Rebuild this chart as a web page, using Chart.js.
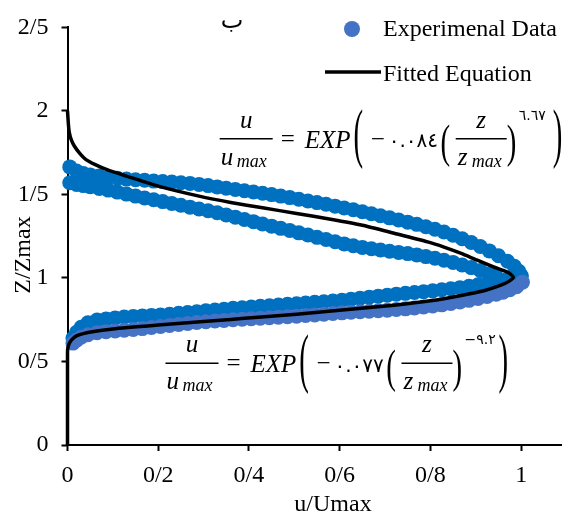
<!DOCTYPE html>
<html>
<head>
<meta charset="utf-8">
<script src="https://cdn.jsdelivr.net/npm/chart.js@4.4.0/dist/chart.umd.min.js"></script>
<style>
  html, body { margin: 0; padding: 0; background: #fff; overflow: hidden; }
  canvas { display: block; }
</style>
</head>
<body>
<canvas id="chart" width="569" height="514"></canvas>
<script>
// measured profile, upper half (two runs)
const upperOuterX = [0.005, 0.02, 0.035, 0.05, 0.07, 0.09, 0.11, 0.13, 0.15, 0.17, 0.19, 0.21, 0.23, 0.25, 0.27, 0.29, 0.31, 0.33, 0.35, 0.37, 0.39, 0.41, 0.43, 0.45, 0.47, 0.49, 0.51, 0.53, 0.55, 0.57, 0.59, 0.61, 0.63, 0.65, 0.67, 0.69, 0.71, 0.73, 0.75, 0.77, 0.79, 0.81, 0.83, 0.85, 0.87, 0.89, 0.91, 0.93, 0.95, 0.97, 0.985, 0.995, 1.0]
const upperOuterY = [1.665, 1.64, 1.625, 1.617, 1.61, 1.603, 1.597, 1.592, 1.588, 1.585, 1.58, 1.577, 1.574, 1.57, 1.566, 1.56, 1.553, 1.545, 1.537, 1.53, 1.522, 1.515, 1.507, 1.499, 1.49, 1.481, 1.471, 1.461, 1.451, 1.441, 1.43, 1.419, 1.408, 1.396, 1.384, 1.372, 1.36, 1.347, 1.334, 1.321, 1.307, 1.292, 1.275, 1.256, 1.235, 1.212, 1.188, 1.162, 1.133, 1.1, 1.07, 1.04, 1.01]

const upperInnerX = [0.005, 0.02, 0.035, 0.05, 0.07, 0.09, 0.11, 0.13, 0.15, 0.17, 0.19, 0.21, 0.23, 0.25, 0.27, 0.29, 0.31, 0.33, 0.35, 0.37, 0.39, 0.41, 0.43, 0.45, 0.47, 0.49, 0.51, 0.53, 0.55, 0.57, 0.59, 0.61, 0.63, 0.65, 0.67, 0.69, 0.71, 0.73, 0.75, 0.77, 0.79, 0.81, 0.83, 0.85, 0.87, 0.89, 0.91, 0.93, 0.945]
const upperInnerY = [1.57, 1.56, 1.553, 1.546, 1.536, 1.526, 1.514, 1.502, 1.49, 1.479, 1.468, 1.457, 1.446, 1.435, 1.424, 1.413, 1.402, 1.39, 1.377, 1.364, 1.35, 1.337, 1.323, 1.31, 1.297, 1.284, 1.27, 1.257, 1.243, 1.23, 1.217, 1.204, 1.193, 1.183, 1.175, 1.167, 1.16, 1.153, 1.146, 1.138, 1.128, 1.118, 1.106, 1.093, 1.078, 1.062, 1.045, 1.025, 1.008]

// measured profile, lower half
const lowerDarkX = [0.012, 0.02, 0.03, 0.045, 0.065, 0.085, 0.105, 0.125, 0.145, 0.165, 0.185, 0.205, 0.225, 0.245, 0.265, 0.285, 0.305, 0.325, 0.345, 0.365, 0.385, 0.405, 0.425, 0.445, 0.465, 0.485, 0.505, 0.525, 0.545, 0.565, 0.585, 0.605, 0.625, 0.645, 0.665, 0.685, 0.705, 0.725, 0.745, 0.765, 0.785, 0.805, 0.825, 0.845, 0.865, 0.885, 0.905, 0.925, 0.945, 0.96, 0.975, 0.99, 1.0]
const lowerDarkY = [0.64, 0.675, 0.705, 0.732, 0.748, 0.755, 0.761, 0.766, 0.77, 0.773, 0.776, 0.779, 0.783, 0.788, 0.793, 0.798, 0.803, 0.808, 0.813, 0.818, 0.822, 0.826, 0.83, 0.834, 0.838, 0.842, 0.846, 0.85, 0.854, 0.858, 0.862, 0.867, 0.873, 0.879, 0.885, 0.891, 0.897, 0.903, 0.908, 0.913, 0.918, 0.923, 0.929, 0.935, 0.942, 0.95, 0.959, 0.969, 0.978, 0.986, 0.994, 1.003, 1.015]

const expX = [0.012, 0.02, 0.03, 0.045, 0.065, 0.085, 0.105, 0.125, 0.145, 0.165, 0.185, 0.205, 0.225, 0.245, 0.265, 0.285, 0.305, 0.325, 0.345, 0.365, 0.385, 0.405, 0.425, 0.445, 0.465, 0.485, 0.505, 0.525, 0.545, 0.565, 0.585, 0.605, 0.625, 0.645, 0.665, 0.685, 0.705, 0.725, 0.745, 0.765, 0.785, 0.805, 0.825, 0.845, 0.865, 0.885, 0.905, 0.925, 0.945, 0.96, 0.975, 0.99, 1.003]
const expY = [0.61, 0.628, 0.645, 0.66, 0.672, 0.678, 0.683, 0.687, 0.692, 0.697, 0.703, 0.709, 0.715, 0.722, 0.728, 0.733, 0.738, 0.742, 0.746, 0.75, 0.753, 0.756, 0.759, 0.762, 0.765, 0.768, 0.771, 0.775, 0.779, 0.783, 0.787, 0.791, 0.795, 0.798, 0.801, 0.804, 0.807, 0.811, 0.815, 0.82, 0.826, 0.832, 0.839, 0.847, 0.856, 0.866, 0.877, 0.889, 0.903, 0.915, 0.93, 0.948, 0.975]

// fitted curve
const fitX = [0, 0, 0, 0.001, 0.005, 0.012, 0.021, 0.035, 0.055, 0.1, 0.2, 0.3, 0.36, 0.42, 0.505, 0.6, 0.72, 0.8, 0.868, 0.92, 0.954, 0.972, 0.983, 0.97, 0.939, 0.9, 0.868, 0.83, 0.794, 0.72, 0.65, 0.58, 0.505, 0.43, 0.36, 0.29, 0.2, 0.13, 0.09, 0.06, 0.04, 0.027, 0.015, 0.008, 0.004, 0.002, 0]
const fitY = [0, 0.3, 0.55, 0.585, 0.615, 0.638, 0.655, 0.667, 0.678, 0.695, 0.718, 0.739, 0.752, 0.765, 0.783, 0.806, 0.837, 0.863, 0.895, 0.925, 0.955, 0.978, 1.005, 1.035, 1.066, 1.11, 1.147, 1.185, 1.216, 1.268, 1.316, 1.352, 1.386, 1.42, 1.452, 1.49, 1.55, 1.61, 1.645, 1.68, 1.71, 1.746, 1.79, 1.83, 1.87, 1.92, 2.0]

const xTicks = [0, 0.2, 0.4, 0.6, 0.8, 1]
const xTickLabels = ['0', '0/2', '0/4', '0/6', '0/8', '1']
const yTicks = [0, 0.5, 1, 1.5, 2, 2.5]
const yTickLabels = ['0', '0/5', '1', '1/5', '2', '2/5']

const panelTitle = 'ب'
const xTitle = 'u/Umax'
const yTitle = 'Z/Zmax'
const expLabel = 'Experimenal Data'
const fitLabel = 'Fitted Equation'

// equations: anchor = left end of the main fraction bar, in data units
const equations = [
    { at: [0.3355, 1.834], coef: '٠.٠٨٤', power: '٦.٦٧' },
    { at: [0.216, 0.489], coef: '٠.٠٧٧', power: '−٩.٢' }
]

const DARK = '#0070C0'
const LIGHT = '#4472C4'
const SERIF = "'Liberation Serif', 'Times New Roman', serif"

function pts(xs, ys) {
    return xs.map((x, i) => ({ x: x, y: ys[i] }))
}

function txt(ctx, s, x, y, font, align) {
    ctx.font = font
    ctx.textAlign = align || 'left'
    ctx.fillText(s, x, y)
}

function hbar(ctx, x0, x1, y) {
    ctx.lineWidth = 1.5
    ctx.beginPath()
    ctx.moveTo(x0, y)
    ctx.lineTo(x1, y)
    ctx.stroke()
}

// a tall bracket: one glyph stretched to span top..bottom
function paren(ctx, ch, x, top, bottom) {
    ctx.save()
    ctx.font = '24px ' + SERIF
    ctx.textAlign = 'left'
    const m = ctx.measureText(ch)
    const h = m.actualBoundingBoxAscent + m.actualBoundingBoxDescent
    ctx.translate(x, top)
    ctx.scale(1.2, (bottom - top) / h)
    ctx.fillText(ch, m.actualBoundingBoxLeft, m.actualBoundingBoxAscent)
    ctx.restore()
}

function drawEquation(ctx, ax, ay, eq) {
    const it = 'italic 25px ' + SERIF
    const sub = 'italic 18px ' + SERIF
    const up = '25px ' + SERIF
    const ar = "20px 'DejaVu Sans'"
    const arSup = "14px 'DejaVu Sans'"
    txt(ctx, 'u', ax + 26.5, ay - 11, it, 'center')
    hbar(ctx, ax, ax + 53, ay)
    txt(ctx, 'u', ax + 1, ay + 26, it)
    txt(ctx, 'max', ax + 17, ay + 28, sub)
    txt(ctx, '=', ax + 68, ay + 8, up, 'center')
    txt(ctx, 'EXP', ax + 85, ay + 9, it)
    paren(ctx, '(', ax + 135, ay - 30, ay + 30)
    txt(ctx, '−', ax + 158, ay + 8, up, 'center')
    txt(ctx, eq.coef, ax + 169, ay + 8.5, ar)
    paren(ctx, '(', ax + 222, ay - 15, ay + 28)
    txt(ctx, 'z', ax + 261.5, ay - 11, it, 'center')
    hbar(ctx, ax + 236, ax + 287, ay)
    txt(ctx, 'z', ax + 238, ay + 26, it)
    txt(ctx, 'max', ax + 252, ay + 28, sub)
    paren(ctx, ')', ax + 287, ay - 15, ay + 28)
    txt(ctx, eq.power, ax + 299, ay - 19, arSup)
    paren(ctx, ')', ax + 333, ay - 30, ay + 30)
}

const annotate = {
    id: 'annotate',
    afterDraw(chart) {
        const ctx = chart.ctx
        const xs = chart.scales.x
        const ys = chart.scales.y
        ctx.save()
        ctx.fillStyle = '#000'
        ctx.strokeStyle = '#000'
        ctx.textBaseline = 'alphabetic'

        txt(ctx, panelTitle, 232, 28, "24px " + SERIF + ", 'DejaVu Sans'", 'center')

        // axis titles
        txt(ctx, xTitle, 333, 511, '24px ' + SERIF, 'center')
        ctx.save()
        ctx.translate(30, 255)
        ctx.rotate(-Math.PI / 2)
        txt(ctx, yTitle, 0, 0, '24px ' + SERIF, 'center')
        ctx.restore()

        // legend
        ctx.fillStyle = LIGHT
        ctx.beginPath()
        ctx.arc(352, 29, 8, 0, Math.PI * 2)
        ctx.fill()
        ctx.fillStyle = '#000'
        txt(ctx, expLabel, 383, 36, '24px ' + SERIF)
        ctx.lineWidth = 3.5
        ctx.beginPath()
        ctx.moveTo(325, 72)
        ctx.lineTo(381, 72)
        ctx.stroke()
        txt(ctx, fitLabel, 383, 81, '24px ' + SERIF)

        equations.forEach(eq => {
            drawEquation(ctx, xs.getPixelForValue(eq.at[0]), ys.getPixelForValue(eq.at[1]), eq)
        })
        ctx.restore()
    }
}

Chart.defaults.font.family = SERIF
Chart.defaults.font.size = 24
Chart.defaults.color = '#000'

const dotStyle = { pointRadius: 7.5, pointBorderWidth: 0, pointHoverRadius: 7.5, clip: false }

new Chart(document.getElementById('chart'), {
    type: 'scatter',
    data: {
        datasets: [
            { label: fitLabel, data: pts(fitX, fitY), showLine: true, borderColor: '#000', borderWidth: 3.5, pointRadius: 0, tension: 0.2, clip: false },
            Object.assign({ label: expLabel, data: pts(expX, expY), backgroundColor: LIGHT }, dotStyle),
            Object.assign({ label: 'lower', data: pts(lowerDarkX, lowerDarkY), backgroundColor: DARK }, dotStyle),
            Object.assign({ label: 'upper inner', data: pts(upperInnerX, upperInnerY), backgroundColor: DARK }, dotStyle),
            Object.assign({ label: 'upper outer', data: pts(upperOuterX, upperOuterY), backgroundColor: DARK }, dotStyle)
        ]
    },
    options: {
        responsive: false,
        animation: false,
        devicePixelRatio: 1,
        layout: { padding: { top: 27, right: 0, bottom: 0, left: 0 } },
        plugins: { legend: { display: false }, tooltip: { enabled: false } },
        scales: {
            x: {
                type: 'linear',
                min: 0,
                max: 1.089,
                afterFit: s => { s.height = 69 },
                afterBuildTicks: s => { s.ticks = xTicks.map(v => ({ value: v })) },
                ticks: {
                    callback: v => xTickLabels[xTicks.indexOf(v)],
                    padding: 10,
                    maxRotation: 0,
                    autoSkip: false
                },
                grid: { drawOnChartArea: false, drawTicks: true, tickLength: 6, tickWidth: 2, tickColor: '#000' },
                border: { display: true, color: '#000', width: 2 }
            },
            y: {
                type: 'linear',
                min: 0,
                max: 2.5,
                afterFit: s => { s.width = 67.5 },
                afterBuildTicks: s => { s.ticks = yTicks.map(v => ({ value: v })) },
                ticks: {
                    callback: v => yTickLabels[yTicks.indexOf(v)],
                    padding: 13,
                    autoSkip: false
                },
                grid: { drawOnChartArea: false, drawTicks: true, tickLength: 6, tickWidth: 2, tickColor: '#000' },
                border: { display: true, color: '#000', width: 2 }
            }
        }
    },
    plugins: [annotate]
})
</script>
</body>
</html>
